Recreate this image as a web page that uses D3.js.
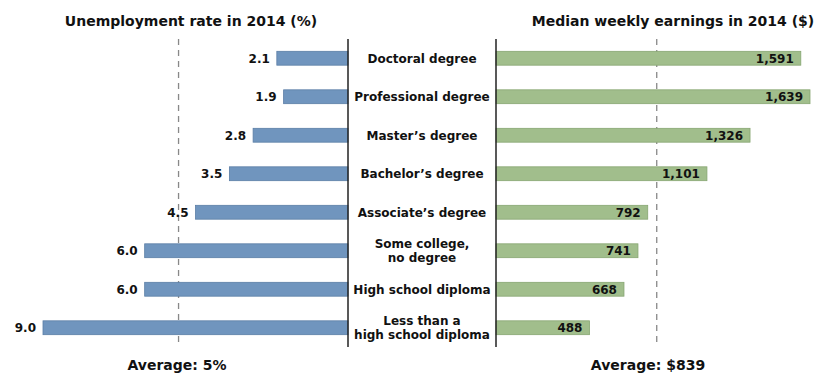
<!DOCTYPE html>
<html><head><meta charset="utf-8">
<script src="https://cdn.jsdelivr.net/npm/d3@7/dist/d3.min.js"></script>
<style>body{margin:0;background:#fff;} text{font-family:"DejaVu Sans",Verdana,sans-serif;font-weight:bold;fill:#111;}</style>
</head><body><svg id="c" width="825" height="380"></svg>
<script>
const categories = ["Doctoral degree","Professional degree","Master\u2019s degree","Bachelor\u2019s degree","Associate\u2019s degree","Some college,|no degree","High school diploma","Less than a|high school diploma"];
const unemployment = [2.1,1.9,2.8,3.5,4.5,6.0,6.0,9.0];
const earnings = [1591,1639,1326,1101,792,741,668,488];
const avgUnemployment = 5;
const avgEarnings = 839;
const titles = ["Unemployment rate in 2014 (%)","Median weekly earnings in 2014 ($)"];
const avgLabels = ["Average: 5%","Average: $839"];

const svg = d3.select("#c");
const y = d3.scaleBand().domain(categories).range([39,347]).paddingInner(0.64).paddingOuter(0.32);
const leftX0 = 348, rightX0 = 496;
const xL = d3.scaleLinear().domain([0,9]).range([leftX0, leftX0-305]);
const xR = d3.scaleLinear().domain([0,1639]).range([rightX0, rightX0+314]);

// average dashed lines
svg.append("line").attr("x1",xL(avgUnemployment)).attr("x2",xL(avgUnemployment)).attr("y1",39).attr("y2",347)
  .attr("stroke","#888").attr("stroke-width",1.3).attr("stroke-dasharray","6,5");
svg.append("line").attr("x1",xR(avgEarnings)).attr("x2",xR(avgEarnings)).attr("y1",39).attr("y2",347)
  .attr("stroke","#888").attr("stroke-width",1.3).attr("stroke-dasharray","6,5");

// bars
svg.selectAll(".lb").data(categories).enter().append("rect")
  .attr("x",(d,i)=>xL(unemployment[i])).attr("y",d=>y(d)).attr("width",(d,i)=>xL(0)-xL(unemployment[i])).attr("height",y.bandwidth())
  .attr("fill","#7095be").attr("stroke","#5b7ea6").attr("stroke-width",0.8);
svg.selectAll(".rb").data(categories).enter().append("rect")
  .attr("x",xR(0)).attr("y",d=>y(d)).attr("width",(d,i)=>xR(earnings[i])-xR(0)).attr("height",y.bandwidth())
  .attr("fill","#a1be8c").attr("stroke","#87a672").attr("stroke-width",0.8);

// axis lines
svg.append("line").attr("x1",leftX0).attr("x2",leftX0).attr("y1",39).attr("y2",347).attr("stroke","#222").attr("stroke-width",1.5);
svg.append("line").attr("x1",rightX0).attr("x2",rightX0).attr("y1",39).attr("y2",347).attr("stroke","#222").attr("stroke-width",1.5);

// value labels
svg.selectAll(".lv").data(categories).enter().append("text")
  .attr("x",(d,i)=>xL(unemployment[i])-7).attr("y",d=>y(d)+y.bandwidth()/2).attr("dy","0.36em")
  .attr("text-anchor","end").attr("font-size",12).text((d,i)=>d3.format(".1f")(unemployment[i]));
svg.selectAll(".rv").data(categories).enter().append("text")
  .attr("x",(d,i)=>xR(earnings[i])-7).attr("y",d=>y(d)+y.bandwidth()/2).attr("dy","0.36em")
  .attr("text-anchor","end").attr("font-size",12).text((d,i)=>d3.format(",")(earnings[i]));

// category labels
const cx = (leftX0+rightX0)/2;
categories.forEach(c=>{
  const lines = c.split("|");
  const t = svg.append("text").attr("x",cx).attr("text-anchor","middle").attr("font-size",12);
  const yc = y(c)+y.bandwidth()/2;
  const lh = 14;
  lines.forEach((l,k)=>{
    t.append("tspan").attr("x",cx).attr("y",yc + (k-(lines.length-1)/2)*lh).attr("dy","0.36em").text(l);
  });
});

// titles
svg.append("text").attr("x",191).attr("y",26).attr("text-anchor","middle").attr("font-size",14).text(titles[0]);
svg.append("text").attr("x",673).attr("y",26).attr("text-anchor","middle").attr("font-size",14).text(titles[1]);
svg.append("text").attr("x",177).attr("y",370).attr("text-anchor","middle").attr("font-size",14).text(avgLabels[0]);
svg.append("text").attr("x",648).attr("y",370).attr("text-anchor","middle").attr("font-size",14).text(avgLabels[1]);
</script></body></html>
